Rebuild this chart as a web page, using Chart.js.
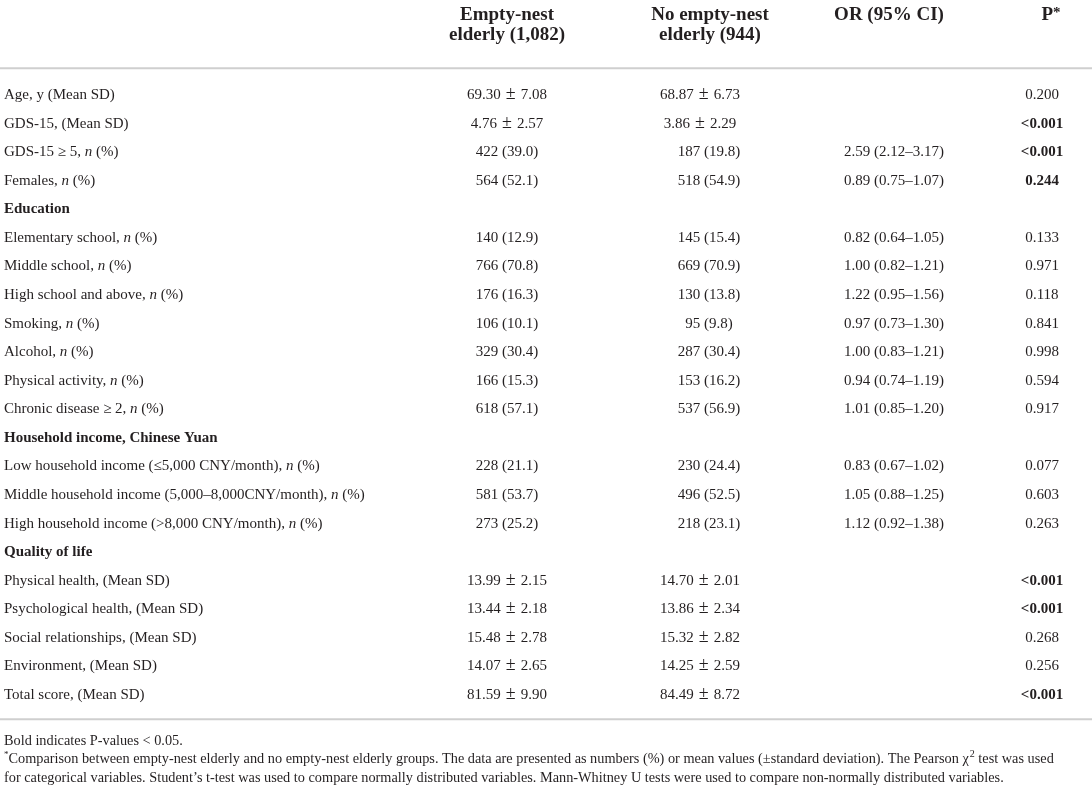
<!DOCTYPE html>
<html><head><meta charset="utf-8">
<script src="https://cdn.jsdelivr.net/npm/chart.js@4.4.1/dist/chart.umd.min.js"></script>
<style>html,body{margin:0;padding:0;background:#fff;overflow:hidden}#wrap{width:1092px;height:788px;position:relative}</style>
</head><body><div id="wrap"><canvas id="c"></canvas></div>
<script>
// ---------- DATA ----------
const rowLabels = [
  "Age, y (Mean SD)",
  "GDS-15, (Mean SD)",
  "GDS-15 \u2265 5, n (%)",
  "Females, n (%)",
  "Education",
  "Elementary school, n (%)",
  "Middle school, n (%)",
  "High school and above, n (%)",
  "Smoking, n (%)",
  "Alcohol, n (%)",
  "Physical activity, n (%)",
  "Chronic disease \u2265 2, n (%)",
  "Household income, Chinese Yuan",
  "Low household income (\u22645,000 CNY/month), n (%)",
  "Middle household income (5,000\u20138,000CNY/month), n (%)",
  "High household income (>8,000 CNY/month), n (%)",
  "Quality of life",
  "Physical health, (Mean SD)",
  "Psychological health, (Mean SD)",
  "Social relationships, (Mean SD)",
  "Environment, (Mean SD)",
  "Total score, (Mean SD)"
];
const sectionRows = ["Education", "Household income, Chinese Yuan", "Quality of life"];
const emptyNest = [
  "69.30 \u00b1 7.08", "4.76 \u00b1 2.57", "422 (39.0)", "564 (52.1)", "",
  "140 (12.9)", "766 (70.8)", "176 (16.3)", "106 (10.1)", "329 (30.4)", "166 (15.3)", "618 (57.1)", "",
  "228 (21.1)", "581 (53.7)", "273 (25.2)", "",
  "13.99 \u00b1 2.15", "13.44 \u00b1 2.18", "15.48 \u00b1 2.78", "14.07 \u00b1 2.65", "81.59 \u00b1 9.90"
];
const noEmptyNest = [
  "68.87 \u00b1 6.73", "3.86 \u00b1 2.29", "187 (19.8)", "518 (54.9)", "",
  "145 (15.4)", "669 (70.9)", "130 (13.8)", "95 (9.8)", "287 (30.4)", "153 (16.2)", "537 (56.9)", "",
  "230 (24.4)", "496 (52.5)", "218 (23.1)", "",
  "14.70 \u00b1 2.01", "13.86 \u00b1 2.34", "15.32 \u00b1 2.82", "14.25 \u00b1 2.59", "84.49 \u00b1 8.72"
];
const orCI = [
  "", "", "2.59 (2.12\u20133.17)", "0.89 (0.75\u20131.07)", "",
  "0.82 (0.64\u20131.05)", "1.00 (0.82\u20131.21)", "1.22 (0.95\u20131.56)", "0.97 (0.73\u20131.30)", "1.00 (0.83\u20131.21)", "0.94 (0.74\u20131.19)", "1.01 (0.85\u20131.20)", "",
  "0.83 (0.67\u20131.02)", "1.05 (0.88\u20131.25)", "1.12 (0.92\u20131.38)", "",
  "", "", "", "", ""
];
const pValues = [
  "0.200", "<0.001", "<0.001", "0.244", "",
  "0.133", "0.971", "0.118", "0.841", "0.998", "0.594", "0.917", "",
  "0.077", "0.603", "0.263", "",
  "<0.001", "<0.001", "0.268", "0.256", "<0.001"
];
const pBold = [
  false, true, true, true, false,
  false, false, false, false, false, false, false, false,
  false, false, false, false,
  true, true, false, false, true
];
const columnHeaders = [
  ["Empty-nest", "elderly (1,082)"],
  ["No empty-nest", "elderly (944)"],
  ["OR (95% CI)"],
  ["P"]
];
const noteBold = "Bold indicates P-values < 0.05.";
const noteLine1a = "Comparison between empty-nest elderly and no empty-nest elderly groups. The data are presented as numbers (%) or mean values (\u00b1standard deviation). The Pearson \u03c7";
const noteLine1b = " test was used";
const noteLine2 = "for categorical variables. Student\u2019s t-test was used to compare normally distributed variables. Mann-Whitney U tests were used to compare non-normally distributed variables.";

// ---------- LAYOUT / STYLE ----------
const W = 1092, H = 788;
const COL_X = [4, 507, 709, 894, 1042];
const ROW_TOP = 94, ROW_STEP = 28.57;
const FONT = "'Liberation Serif', 'Times New Roman', serif";
const TXT = "#231f20";
const RULE = "#cfcfcf";
const BODY = 15, HEAD = 19, NOTE = 14.3;

const columns = [rowLabels, emptyNest, noEmptyNest, orCI, pValues];
const datasets = columns.map((col, c) => ({
  label: "col" + c,
  data: col.map((_, i) => ({ x: COL_X[c], y: i })),
  pointRadius: 0, pointHoverRadius: 0, showLine: false
}));

function drawRich(ctx, segs, x, y, align) {
  let total = 0;
  segs.forEach(s => { ctx.font = s.font; s.w = ctx.measureText(s.t).width + (s.padL || 0) + (s.padR || 0); total += s.w; });
  let sx = align === "center" ? x - total / 2 : (align === "right" ? x - total : x);
  ctx.textAlign = "left";
  segs.forEach(s => { ctx.font = s.font; ctx.fillText(s.t, sx + (s.padL || 0), y + (s.dy || 0)); sx += s.w; });
}
function labelSegs(label) {
  const reg = BODY + "px " + FONT, it = "italic " + BODY + "px " + FONT, bd = "bold " + BODY + "px " + FONT;
  if (sectionRows.includes(label)) return [{ t: label, font: bd }];
  const k = label.lastIndexOf("n (%)");
  if (k >= 0) return [{ t: label.slice(0, k), font: reg }, { t: "n", font: it }, { t: " (%)", font: reg }];
  return [{ t: label, font: reg }];
}
function cellSegs(txt, font) {
  const k = txt.indexOf(" \u00b1 ");
  if (k < 0) return [{ t: txt, font }];
  return [
    { t: txt.slice(0, k), font },
    { t: "\u00b1", font: "18px " + FONT, padL: 5, padR: 5, dy: 0 },
    { t: txt.slice(k + 3), font }
  ];
}

const tablePlugin = {
  id: "tablePlugin",
  afterDatasetsDraw(chart) {
    const ctx = chart.ctx;
    ctx.save();
    ctx.fillStyle = TXT;
    ctx.textBaseline = "alphabetic";
    // header
    const hb = "bold " + HEAD + "px " + FONT;
    const hx = [COL_X[1], COL_X[2] + 1, COL_X[3] - 5, COL_X[4] + 9];
    columnHeaders.forEach((lines, c) => {
      lines.forEach((ln, j) => {
        const segs = [{ t: ln, font: hb }];
        if (c === 3) segs.push({ t: "*", font: "bold 15px " + FONT, dy: -3 });
        drawRich(ctx, segs, hx[c], 20 + j * 20, "center");
      });
    });
    // rules
    const top = chart.chartArea.top, bottom = chart.chartArea.bottom;
    ctx.strokeStyle = RULE; ctx.lineWidth = 2;
    ctx.beginPath();
    ctx.moveTo(0, top - 11.5); ctx.lineTo(W, top - 11.5);
    ctx.moveTo(0, bottom + 11); ctx.lineTo(W, bottom + 11);
    ctx.stroke();
    // cells
    chart.data.datasets.forEach((ds, c) => {
      const meta = chart.getDatasetMeta(c);
      meta.data.forEach((el, i) => {
        const txt = columns[c][i];
        if (!txt) return;
        const y = el.y + 5;
        if (c === 0) { drawRich(ctx, labelSegs(txt), el.x, y, "left"); return; }
        let font = BODY + "px " + FONT;
        if (c === 4 && pBold[i]) font = "bold " + BODY + "px " + FONT;
        let x = el.x;
        if (c === 2 && txt.indexOf("\u00b1") >= 0) x -= 9;
        drawRich(ctx, cellSegs(txt, font), x, y, "center");
      });
    });
    // notes
    const nf = NOTE + "px " + FONT;
    drawRich(ctx, [{ t: noteBold, font: nf }], 4, bottom + 37, "left");
    drawRich(ctx, [
      { t: "*", font: "9px " + FONT, dy: -6 },
      { t: noteLine1a, font: nf },
      { t: "2", font: "10px " + FONT, dy: -6, padL: 1 },
      { t: noteLine1b, font: nf }
    ], 4, bottom + 55, "left");
    drawRich(ctx, [{ t: noteLine2, font: nf }], 4, bottom + 74, "left");
    ctx.restore();
  }
};

new Chart(document.getElementById("c"), {
  type: "scatter",
  data: { labels: rowLabels, datasets },
  options: {
    responsive: true, maintainAspectRatio: false, animation: false,
    layout: { padding: { left: 0, right: 0, top: ROW_TOP - ROW_STEP / 2, bottom: H - (ROW_TOP - ROW_STEP / 2) - ROW_STEP * rowLabels.length } },
    plugins: { legend: { display: false }, tooltip: { enabled: false } },
    events: [],
    scales: {
      x: { type: "linear", min: 0, max: W, display: false },
      y: { type: "category", labels: rowLabels, offset: true, display: false, grid: { display: false } }
    }
  },
  plugins: [tablePlugin]
});
</script></body></html>
